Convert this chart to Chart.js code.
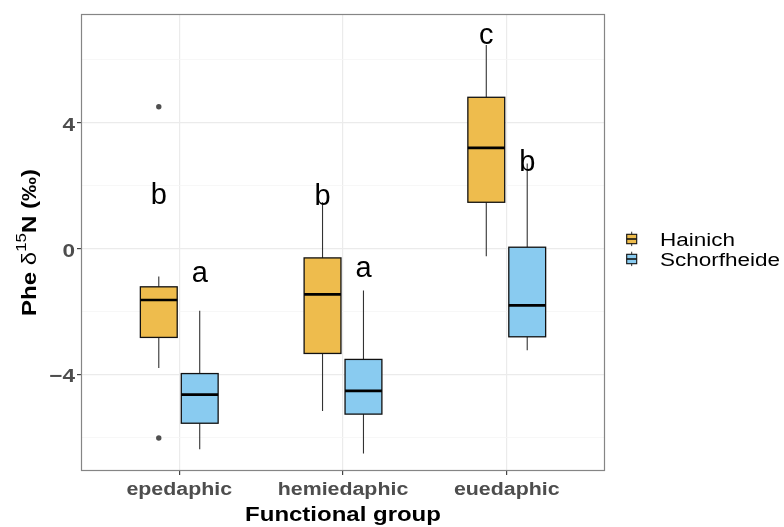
<!DOCTYPE html>
<html>
<head>
<meta charset="utf-8">
<script src="https://cdn.jsdelivr.net/npm/chart.js@4.4.0/dist/chart.umd.min.js"></script>
<style>
  html, body { margin: 0; padding: 0; background: #fff; }
  #wrap { width: 784px; height: 527px; }
</style>
</head>
<body>
<div id="wrap"><canvas id="chart" width="784" height="527"></canvas></div>
<script>
// ---- data ----
const groups = ['epedaphic', 'hemiedaphic', 'euedaphic'];
const sites = ['Hainich', 'Schorfheide'];

// Hainich boxplot stats per group
const hainichLow = [-3.80, -5.17, -0.25];
const hainichQ1 = [-2.83, -3.34, 1.47];
const hainichMedian = [-1.64, -1.46, 3.20];
const hainichQ3 = [-1.22, -0.30, 4.81];
const hainichHigh = [-0.89, 1.47, 6.47];
const hainichOutliers = [[4.51, -6.03], [], []];

// Schorfheide boxplot stats per group
const schorfLow = [-6.39, -6.52, -3.24];
const schorfQ1 = [-5.56, -5.27, -2.81];
const schorfMedian = [-4.65, -4.53, -1.81];
const schorfQ3 = [-3.98, -3.53, 0.04];
const schorfHigh = [-1.98, -1.34, 2.70];
const schorfOutliers = [[], [], []];

// significance letters and where they sit (baseline, data units)
const hainichLetters = ['b', 'b', 'c'];
const hainichLetterY = [1.42, 1.39, 6.49];
const schorfLetters = ['a', 'a', 'b'];
const schorfLetterY = [-1.08, -0.91, 2.48];

const yTicks = [-6, -4, -2, 0, 2, 4, 6];
const yLabelTicks = [-4, 0, 4];

// ---- styling ----
const FONT = '"Liberation Sans", Arial, sans-serif';
const dodge = 0.125;
const boxW = 0.225;
const series = [
  { fill: '#EEBC4D', off: -dodge, low: hainichLow, q1: hainichQ1, med: hainichMedian, q3: hainichQ3, high: hainichHigh, out: hainichOutliers, letters: hainichLetters, letterY: hainichLetterY },
  { fill: '#89CBF0', off: dodge, low: schorfLow, q1: schorfQ1, med: schorfMedian, q3: schorfQ3, high: schorfHigh, out: schorfOutliers, letters: schorfLetters, letterY: schorfLetterY }
];

// outlier points go in as a normal scatter dataset
const outlierPoints = [];
series.forEach(s => {
  s.out.forEach((vals, i) => vals.forEach(v => outlierPoints.push({ x: i + 1 + s.off, y: v })));
});

// text in the original is a bit wider than the font, so squeeze it sideways
function stretchText(ctx, str, x, y, font, align, sx, color) {
  ctx.save();
  ctx.translate(x, y);
  ctx.scale(sx, 1);
  ctx.font = font;
  ctx.textAlign = align;
  ctx.fillStyle = color;
  ctx.fillText(str, 0, 0);
  ctx.restore();
}

const boxPlugin = {
  id: 'boxes',
  beforeDatasetsDraw(chart) {
    const { ctx, scales: { x, y } } = chart;
    ctx.save();
    series.forEach(s => {
      groups.forEach((g, i) => {
        const cx = x.getPixelForValue(i + 1 + s.off);
        const l = x.getPixelForValue(i + 1 + s.off - boxW / 2);
        const r = x.getPixelForValue(i + 1 + s.off + boxW / 2);
        const yLow = y.getPixelForValue(s.low[i]);
        const yQ1 = y.getPixelForValue(s.q1[i]);
        const yMed = y.getPixelForValue(s.med[i]);
        const yQ3 = y.getPixelForValue(s.q3[i]);
        const yHigh = y.getPixelForValue(s.high[i]);
        // whiskers
        ctx.strokeStyle = '#333333';
        ctx.lineWidth = 1.1;
        ctx.beginPath();
        ctx.moveTo(cx, yHigh); ctx.lineTo(cx, yQ3);
        ctx.moveTo(cx, yQ1); ctx.lineTo(cx, yLow);
        ctx.stroke();
        // box
        ctx.fillStyle = s.fill;
        ctx.fillRect(l, yQ3, r - l, yQ1 - yQ3);
        ctx.strokeStyle = '#111111';
        ctx.lineWidth = 1.3;
        ctx.strokeRect(l, yQ3, r - l, yQ1 - yQ3);
        // median
        ctx.strokeStyle = '#000000';
        ctx.lineWidth = 2.6;
        ctx.beginPath();
        ctx.moveTo(l, yMed); ctx.lineTo(r, yMed);
        ctx.stroke();
      });
    });
    ctx.restore();
  },
  afterDatasetsDraw(chart) {
    const { ctx, scales: { x, y } } = chart;
    ctx.save();
    ctx.textBaseline = 'alphabetic';
    series.forEach(s => {
      s.letters.forEach((t, i) => {
        stretchText(ctx, t, x.getPixelForValue(i + 1 + s.off), y.getPixelForValue(s.letterY[i]),
          '29px ' + FONT, 'center', 1.0, '#000');
      });
    });
    ctx.restore();
  },
  afterDraw(chart) {
    const { ctx, chartArea: a, scales: { x, y } } = chart;
    ctx.save();
    // panel border
    ctx.strokeStyle = '#858585';
    ctx.lineWidth = 1.2;
    ctx.strokeRect(a.left + 0.5, a.top + 0.5, a.right - a.left - 1, a.bottom - a.top - 1);

    // y tick labels
    ctx.textBaseline = 'alphabetic';
    yLabelTicks.forEach(v => {
      const lab = v < 0 ? '\u2212' + Math.abs(v) : String(v);
      stretchText(ctx, lab, a.left - 6, y.getPixelForValue(v) + 8.3, 'bold 18.5px ' + FONT, 'right', 1.22, '#4D4D4D');
    });
    // x tick labels
    groups.forEach((g, i) => {
      stretchText(ctx, g, x.getPixelForValue(i + 1), 494.5, 'bold 17.5px ' + FONT, 'center', 1.22, '#4D4D4D');
    });
    // x title
    stretchText(ctx, 'Functional group', (a.left + a.right) / 2, 521, 'bold 19.5px ' + FONT, 'center', 1.23, '#000');

    // y title with superscript, rotated
    ctx.save();
    ctx.translate(30, (a.top + a.bottom) / 2);
    ctx.rotate(-Math.PI / 2);
    ctx.textBaseline = 'middle';
    ctx.textAlign = 'left';
    ctx.fillStyle = '#000';
    const parts = [
      { t: 'Phe ', f: 'bold 20px ' + FONT, dy: 0 },
      { t: '\u03B4', f: '20px ' + FONT, dy: 0 },
      { t: '15', f: '14px ' + FONT, dy: -7.5 },
      { t: 'N (\u2030)', f: 'bold 20px ' + FONT, dy: 0 }
    ];
    let total = 0;
    parts.forEach(p => { ctx.font = p.f; p.w = ctx.measureText(p.t).width; total += p.w; });
    ctx.scale(147 / total, 1);
    let cur = -total / 2;
    parts.forEach(p => { ctx.font = p.f; ctx.fillText(p.t, cur, p.dy); cur += p.w; });
    ctx.restore();

    // legend
    series.forEach((s, k) => {
      const top = 234.3 + k * 20;
      const kx = 626.7, kw = 10, kh = 9.4;
      ctx.strokeStyle = '#333';
      ctx.lineWidth = 1;
      ctx.beginPath();
      ctx.moveTo(kx + kw / 2, top - 2.6); ctx.lineTo(kx + kw / 2, top + kh + 2.4);
      ctx.stroke();
      ctx.fillStyle = s.fill;
      ctx.fillRect(kx, top, kw, kh);
      ctx.strokeStyle = '#111';
      ctx.lineWidth = 1.1;
      ctx.strokeRect(kx, top, kw, kh);
      ctx.lineWidth = 1.6;
      ctx.beginPath();
      ctx.moveTo(kx, top + kh / 2); ctx.lineTo(kx + kw, top + kh / 2);
      ctx.stroke();
      stretchText(ctx, sites[k], 660, 245.7 + k * 20, '18px ' + FONT, 'left', 1.25, '#000');
    });
    ctx.restore();
  }
};

new Chart(document.getElementById('chart'), {
  type: 'scatter',
  data: {
    datasets: [{
      label: 'outliers',
      data: outlierPoints,
      pointRadius: 2.7,
      pointBackgroundColor: '#4f4f4f',
      pointBorderColor: '#4f4f4f',
      pointBorderWidth: 0
    }]
  },
  options: {
    responsive: false,
    animation: false,
    devicePixelRatio: 1,
    layout: { padding: { left: 0, top: 14, right: 179, bottom: 0 } },
    plugins: { legend: { display: false }, tooltip: { enabled: false } },
    scales: {
      x: {
        type: 'linear',
        min: 0.4,
        max: 3.6,
        afterBuildTicks: s => { s.ticks = groups.map((g, i) => ({ value: i + 1 })); },
        afterFit: s => { s.height = 56; },
        ticks: { display: false },
        border: { display: false },
        grid: { color: '#EBEBEB', lineWidth: 1.2, tickLength: 4, tickColor: '#444' }
      },
      y: {
        min: -7.08,
        max: 7.46,
        afterBuildTicks: s => { s.ticks = yTicks.map(v => ({ value: v })); },
        afterFit: s => { s.width = 81; },
        ticks: { display: false },
        border: { display: false },
        grid: {
          color: c => (c.tick && c.tick.value % 4 === 0) ? '#EBEBEB' : '#F5F5F5',
          lineWidth: c => (c.tick && c.tick.value % 4 === 0) ? 1.2 : 0.8,
          tickLength: 4,
          tickColor: c => (c.tick && c.tick.value % 4 === 0) ? '#444' : 'rgba(0,0,0,0)'
        }
      }
    }
  },
  plugins: [boxPlugin]
});
</script>
</body>
</html>
